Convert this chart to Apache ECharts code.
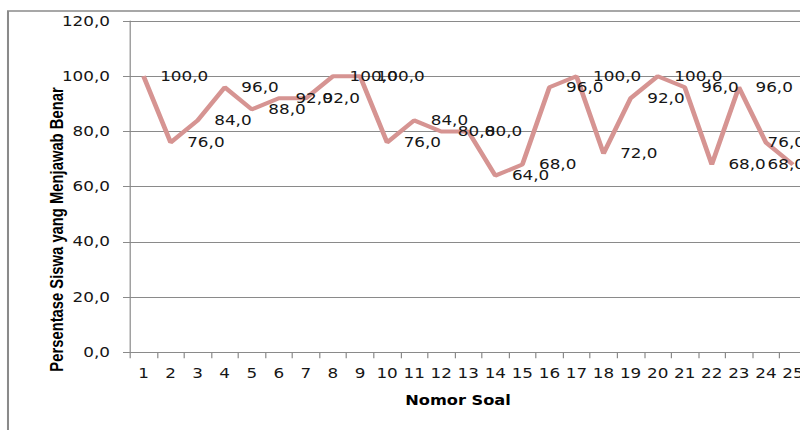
<!DOCTYPE html>
<html>
<head>
<meta charset="utf-8">
<script src="https://cdn.jsdelivr.net/npm/echarts@6/dist/echarts.min.js"></script>
<style>
  html, body { margin: 0; padding: 0; background: #fff; overflow: hidden; }
  #wrap { width: 800px; height: 430px; overflow: hidden; position: relative; }
  /* the chart is laid out narrower and widened horizontally, giving the wide glyph look */
  #chart { width: 666.667px; height: 430px; transform: scaleX(1.2); transform-origin: 0 0; }
</style>
</head>
<body>
<div id="wrap"><div id="chart"></div></div>
<script>
// Nomor soal (question numbers)
const questionNumbers = ['1','2','3','4','5','6','7','8','9','10','11','12','13',
  '14','15','16','17','18','19','20','21','22','23','24','25'];
// Persentase siswa yang menjawab benar per soal
const percentCorrect = [100, 76, 84, 96, 88, 92, 92, 100, 100, 76, 84, 80, 80,
  64, 68, 96, 100, 72, 92, 100, 96, 68, 96, 76, 68];
// Value axis range
const yMin = 0, yMax = 120, yStep = 20;

const SX = 1.2;                 // horizontal widening factor
const px = v => v / SX;         // page x -> chart x
const fmt = v => Number(v).toFixed(1).replace('.', ',');

const GRAY = '#8a8a8a';
const TEXT = '#161616';
const chartRight = px(805);     // labels are kept inside the chart area

const chart = echarts.init(document.getElementById('chart'), null, { renderer: 'svg' });

chart.setOption({
  backgroundColor: '#fff',
  animation: false,
  grid: {
    left: px(130), top: 21, width: px(676.5), height: 331.3,
    containLabel: false, outerBoundsMode: 'none'
  },
  xAxis: {
    type: 'category',
    data: questionNumbers,
    boundaryGap: true,
    axisLine: { show: true, lineStyle: { color: GRAY, width: 1 } },
    axisTick: { show: true, length: 6, lineStyle: { color: GRAY } },
    axisLabel: { color: TEXT, fontFamily: 'DejaVu Sans', fontSize: 14, margin: 14, interval: 0 },
    splitLine: { show: false }
  },
  yAxis: {
    type: 'value',
    min: yMin, max: yMax, interval: yStep,
    axisLine: { show: true, lineStyle: { color: GRAY, width: 1 } },
    axisTick: { show: true, length: px(7), lineStyle: { color: GRAY } },
    axisLabel: {
      color: TEXT, fontFamily: 'DejaVu Sans', fontSize: 14, margin: px(20),
      formatter: v => fmt(v)
    },
    splitLine: { show: true, lineStyle: { color: GRAY, width: 1 } }
  },
  series: [{
    type: 'line',
    data: percentCorrect,
    symbol: 'circle',
    symbolSize: 1,
    showSymbol: true,
    itemStyle: { color: 'rgba(0,0,0,0)', borderWidth: 0 },
    lineStyle: { color: '#D69492', width: 4 },
    z: 3,
    label: {
      show: true,
      position: 'right',
      distance: px(16),
      color: TEXT,
      fontFamily: 'DejaVu Sans',
      fontSize: 14,
      formatter: p => fmt(p.value)
    },
    labelLayout: function (params) {
      const r = params.labelRect;
      if (r.x + r.width > chartRight) {
        return {
          x: chartRight - r.width, y: r.y + r.height / 2,
          align: 'left', verticalAlign: 'middle'
        };
      }
      return {};
    }
  }],
  graphic: [
    {
      type: 'rect', silent: true, z: -1,
      shape: { x: px(8), y: 11, width: 1000, height: 1000 },
      style: { fill: 'none', stroke: GRAY, lineWidth: 1.7 }
    },
    {
      type: 'text', silent: true,
      x: px(56), y: 229.5, rotation: Math.PI / 2,
      style: {
        text: 'Persentase Siswa yang Menjawab Benar',
        font: 'bold 14.8px "Liberation Sans"',
        fill: '#000', align: 'center', verticalAlign: 'middle'
      }
    },
    {
      type: 'text', silent: true,
      x: px(458), y: 400,
      style: {
        text: 'Nomor Soal',
        font: 'bold 13.5px "DejaVu Sans"',
        fill: '#000', align: 'center', verticalAlign: 'middle'
      }
    }
  ]
});
</script>
</body>
</html>
